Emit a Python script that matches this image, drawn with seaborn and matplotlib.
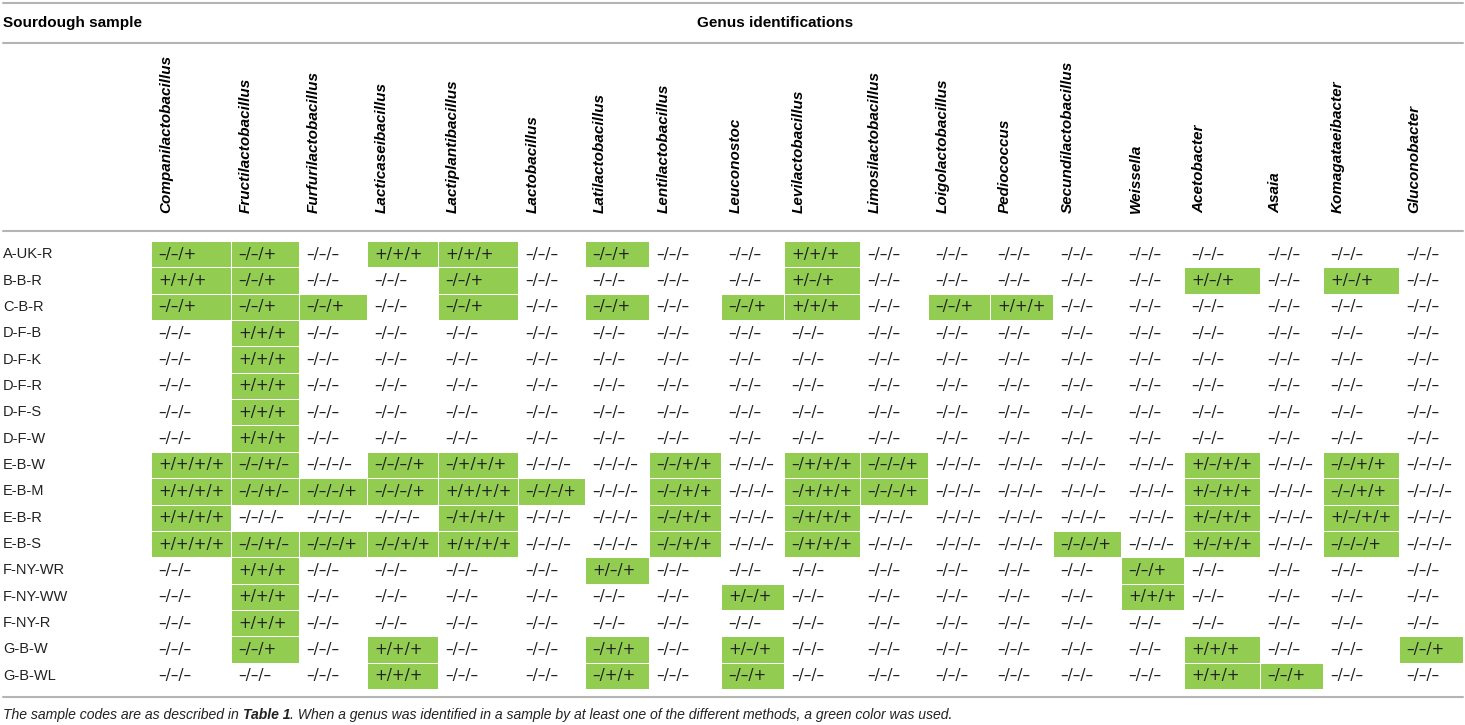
import numpy as np
import pandas as pd
import matplotlib
matplotlib.use("Agg")
import matplotlib.pyplot as plt
from matplotlib import transforms
from matplotlib.colors import ListedColormap
from matplotlib.lines import Line2D
import seaborn as sns

# --- DATA ---
# one code per sample, one character per method ('+' found, '-' not found)
samples = ["A-UK-R", "B-B-R", "C-B-R", "D-F-B", "D-F-K", "D-F-R", "D-F-S", "D-F-W",
           "E-B-W", "E-B-M", "E-B-R", "E-B-S", "F-NY-WR", "F-NY-WW", "F-NY-R",
           "G-B-W", "G-B-WL"]

companilactobacillus = ["--+", "+++", "--+", "---", "---", "---", "---", "---",
                        "++++", "++++", "++++", "++++", "---", "---", "---", "---", "---"]
fructilactobacillus = ["--+", "--+", "--+", "+++", "+++", "+++", "+++", "+++",
                       "--+-", "--+-", "----", "--+-", "+++", "+++", "+++", "--+", "---"]
furfurilactobacillus = ["---", "---", "--+", "---", "---", "---", "---", "---",
                        "----", "---+", "----", "---+", "---", "---", "---", "---", "---"]
lacticaseibacillus = ["+++", "---", "---", "---", "---", "---", "---", "---",
                      "---+", "---+", "----", "--++", "---", "---", "---", "+++", "+++"]
lactiplantibacillus = ["+++", "--+", "--+", "---", "---", "---", "---", "---",
                       "-+++", "++++", "-+++", "++++", "---", "---", "---", "---", "---"]
lactobacillus = ["---", "---", "---", "---", "---", "---", "---", "---",
                 "----", "---+", "----", "----", "---", "---", "---", "---", "---"]
latilactobacillus = ["--+", "---", "--+", "---", "---", "---", "---", "---",
                     "----", "----", "----", "----", "+-+", "---", "---", "-++", "-++"]
lentilactobacillus = ["---", "---", "---", "---", "---", "---", "---", "---",
                      "--++", "--++", "--++", "--++", "---", "---", "---", "---", "---"]
leuconostoc = ["---", "---", "--+", "---", "---", "---", "---", "---",
               "----", "----", "----", "----", "---", "+-+", "---", "+-+", "--+"]
levilactobacillus = ["+++", "+-+", "+++", "---", "---", "---", "---", "---",
                     "-+++", "-+++", "-+++", "-+++", "---", "---", "---", "---", "---"]
limosilactobacillus = ["---", "---", "---", "---", "---", "---", "---", "---",
                       "---+", "---+", "----", "----", "---", "---", "---", "---", "---"]
loigolactobacillus = ["---", "---", "--+", "---", "---", "---", "---", "---",
                      "----", "----", "----", "----", "---", "---", "---", "---", "---"]
pediococcus = ["---", "---", "+++", "---", "---", "---", "---", "---",
               "----", "----", "----", "----", "---", "---", "---", "---", "---"]
secundilactobacillus = ["---", "---", "---", "---", "---", "---", "---", "---",
                        "----", "----", "----", "---+", "---", "---", "---", "---", "---"]
weissella = ["---", "---", "---", "---", "---", "---", "---", "---",
             "----", "----", "----", "----", "--+", "+++", "---", "---", "---"]
acetobacter = ["---", "+-+", "---", "---", "---", "---", "---", "---",
               "+-++", "+-++", "+-++", "+-++", "---", "---", "---", "+++", "+++"]
asaia = ["---", "---", "---", "---", "---", "---", "---", "---",
         "----", "----", "----", "----", "---", "---", "---", "---", "--+"]
komagataeibacter = ["---", "+-+", "---", "---", "---", "---", "---", "---",
                    "--++", "--++", "+-++", "---+", "---", "---", "---", "---", "---"]
gluconobacter = ["---", "---", "---", "---", "---", "---", "---", "---",
                 "----", "----", "----", "----", "---", "---", "---", "--+", "---"]

genera = ["Companilactobacillus", "Fructilactobacillus", "Furfurilactobacillus",
          "Lacticaseibacillus", "Lactiplantibacillus", "Lactobacillus",
          "Latilactobacillus", "Lentilactobacillus", "Leuconostoc",
          "Levilactobacillus", "Limosilactobacillus", "Loigolactobacillus",
          "Pediococcus", "Secundilactobacillus", "Weissella", "Acetobacter",
          "Asaia", "Komagataeibacter", "Gluconobacter"]

columns = [companilactobacillus, fructilactobacillus, furfurilactobacillus,
           lacticaseibacillus, lactiplantibacillus, lactobacillus, latilactobacillus,
           lentilactobacillus, leuconostoc, levilactobacillus, limosilactobacillus,
           loigolactobacillus, pediococcus, secundilactobacillus, weissella,
           acetobacter, asaia, komagataeibacter, gluconobacter]

# --- LAYOUT (pixels) ---
W, H = 1465, 725
col_widths = [80, 68, 68, 71, 80, 67, 64, 72, 63, 76, 68, 62, 63, 68, 63, 76, 63, 76, 64]
table_left, table_top, table_bottom = 151, 241, 689
GREEN = "#92CD52"
TEXT = "#222222"

# --- BUILD TABLE ---
codes = pd.DataFrame(dict(zip(genera, columns)), index=samples)
labels = codes.apply(lambda c: c.map(lambda s: "/".join("\u2013" if ch == "-" else "+" for ch in s)))
found = codes.apply(lambda c: c.str.contains("+", regex=False)).astype(float)

sns.set_style("white")
plt.rcParams["font.family"] = ["Liberation Sans", "DejaVu Sans"]

fig = plt.figure(figsize=(W / 100, H / 100), dpi=100)
ax = fig.add_axes([table_left / W, 1 - table_bottom / H,
                   sum(col_widths) / W, (table_bottom - table_top) / H])

sns.heatmap(found, mask=found == 0, cmap=ListedColormap([GREEN]), vmin=0, vmax=1,
            cbar=False, linewidths=0.6, linecolor="white",
            xticklabels=False, yticklabels=False, ax=ax)

# uneven column widths through a piecewise-linear x scale
edges = np.concatenate([[0], np.cumsum(col_widths)]).astype(float)
idx = np.arange(len(edges), dtype=float)
n = len(col_widths)


def fwd(x):
    x = np.asarray(x, float)
    y = np.interp(x, idx, edges)
    y = np.where(x < 0, x * col_widths[0], y)
    return np.where(x > n, edges[-1] + (x - n) * col_widths[-1], y)


def inv(y):
    y = np.asarray(y, float)
    x = np.interp(y, edges, idx)
    x = np.where(y < 0, y / col_widths[0], x)
    return np.where(y > edges[-1], n + (y - edges[-1]) / col_widths[-1], x)


ax.set_xscale("function", functions=(fwd, inv))
ax.set_xlim(0, n)
ax.set_ylim(len(samples), 0)
ax.set_xticks([])
ax.set_yticks([])
for s in ax.spines.values():
    s.set_visible(False)

# cell texts
cell_trans = transforms.offset_copy(ax.transData, fig=fig, x=7, y=0, units="dots")
for i in range(len(samples)):
    for j in range(n):
        ax.text(j, i + 0.5, labels.iat[i, j], transform=cell_trans, ha="left", va="center",
                fontsize=11, family="DejaVu Sans", color=TEXT)

# row labels
row_trans = transforms.blended_transform_factory(fig.transFigure, ax.transData)
for i, s in enumerate(samples):
    ax.text(3 / W, i + 0.5, s, transform=row_trans, ha="left", va="center",
            fontsize=10.5, color=TEXT)

# rotated genus headers
head_trans = transforms.offset_copy(ax.get_xaxis_transform(), fig=fig, x=15, y=28, units="dots")
for j, g in enumerate(genera):
    ax.text(j, 1.0, g, transform=head_trans, rotation=90, ha="center", va="bottom",
            fontsize=11, fontweight="bold", fontstyle="italic", color="black")

# top headings
fig.text(3 / W, 1 - 23 / H, "Sourdough sample", ha="left", va="center",
         fontsize=11, fontweight="bold", color="black")
fig.text(775 / W, 1 - 23 / H, "Genus identifications", ha="center", va="center",
         fontsize=11, fontweight="bold", color="black")

# rules
for y in [3, 43, 231, 697]:
    fig.add_artist(Line2D([3 / W, 1463 / W], [1 - y / H, 1 - y / H],
                          color="#b4b4b4", linewidth=1.5))

# footnote
t1 = fig.text(3 / W, 1 - 715 / H, "The sample codes are as described in ", ha="left",
              va="center", fontsize=10.1, fontstyle="italic", color=TEXT)
t2 = ax.annotate("Table 1", xy=(1, 0), xycoords=t1, ha="left", va="bottom",
                 fontsize=10.1, fontstyle="italic", fontweight="bold", color=TEXT,
                 annotation_clip=False)
ax.annotate(". When a genus was identified in a sample by at least one of the different "
            "methods, a green color was used.", xy=(1, 0), xycoords=t2, ha="left",
            va="bottom", fontsize=10.1, fontstyle="italic", color=TEXT, annotation_clip=False)

fig.savefig("out.png", dpi=100)
